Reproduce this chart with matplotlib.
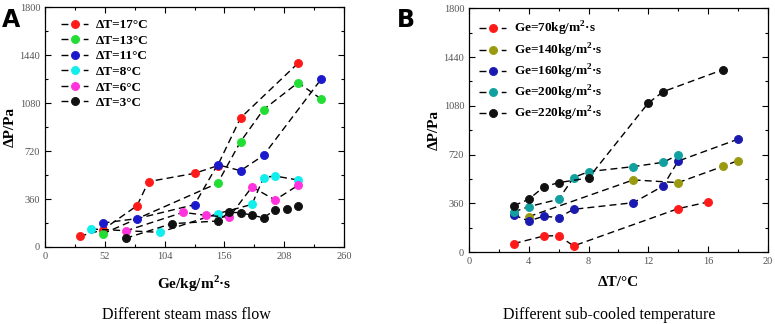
import matplotlib.pyplot as plt
from matplotlib.ticker import MultipleLocator

# Panel A: pressure drop vs steam mass flow, one series per sub-cooling
ge_17 = [30, 50, 80, 90, 130, 150, 170, 220]
dp_17 = [80, 128, 310, 491, 553, 610, 969, 1380]
ge_13 = [50, 150, 170, 190, 220, 240]
dp_13 = [98, 478, 791, 1032, 1234, 1112]
ge_11 = [50, 80, 130, 150, 170, 190, 240]
dp_11 = [180, 213, 318, 618, 573, 688, 1259]
ge_8 = [40, 100, 150, 180, 190, 200, 220]
dp_8 = [135, 110, 250, 320, 521, 533, 503]
ge_6 = [70, 120, 140, 160, 180, 200, 220]
dp_6 = [120, 260, 238, 223, 451, 353, 463]
ge_3 = [70, 110, 150, 160, 170, 180, 190, 200, 210, 220]
dp_3 = [65, 175, 195, 260, 258, 238, 220, 278, 285, 310]
labels_a = ['ΔT=17°C', 'ΔT=13°C', 'ΔT=11°C', 'ΔT=8°C', 'ΔT=6°C', 'ΔT=3°C']

# Panel B: pressure drop vs sub-cooling, one series per mass flow
dt_70 = [3, 5, 6, 7, 14, 16]
dp_70 = [64, 120, 123, 47, 322, 371]
dt_140 = [4, 11, 14, 17, 18]
dp_140 = [263, 534, 514, 634, 676]
dt_160 = [3, 4, 5, 6, 7, 11, 13, 14, 18]
dp_160 = [275, 231, 266, 256, 317, 366, 489, 673, 834]
dt_200 = [3, 4, 6, 7, 8, 11, 13, 14]
dp_200 = [298, 337, 391, 551, 595, 632, 664, 718]
dt_220 = [3, 4, 5, 6, 8, 12, 13, 17]
dp_220 = [344, 391, 482, 514, 548, 1101, 1185, 1347]
labels_b = [r'Ge=70kg/m$^\mathbf{2}$·s', r'Ge=140kg/m$^\mathbf{2}$·s',
            r'Ge=160kg/m$^\mathbf{2}$·s', r'Ge=200kg/m$^\mathbf{2}$·s',
            r'Ge=220kg/m$^\mathbf{2}$·s']

colors_a = ['#ff1a1a', '#22dd33', '#1a1acc', '#11eeee', '#ff33dd', '#111111']
colors_b = ['#ff1a1a', '#9a9a10', '#1a1ab0', '#10a0a0', '#111111']

plt.rcParams['font.family'] = ['Liberation Serif', 'DejaVu Serif']
plt.rcParams['mathtext.fontset'] = 'custom'
plt.rcParams['mathtext.rm'] = 'Liberation Serif'
plt.rcParams['mathtext.bf'] = 'Liberation Serif:bold'


def draw_panel(ax, series, colors, labels, spacing, fsize, anchor):
    for (x, y), c, lab in zip(series, colors, labels):
        ax.plot(x, y, ls=(0, (5, 3)), color='k', lw=1.0, marker='o', ms=5.8,
                mfc=c, mec=c, mew=0.6, label=lab)
    ax.set_ylim(0, 1800)
    ax.yaxis.set_major_locator(MultipleLocator(360))
    ax.yaxis.set_minor_locator(MultipleLocator(180))
    ax.tick_params(which='both', direction='in', top=True, right=True,
                   labelsize=7.5, labelcolor='#555555', width=0.8)
    ax.tick_params(which='major', length=4)
    ax.tick_params(which='minor', length=2.5)
    for s in ax.spines.values():
        s.set_linewidth(0.9)
    ax.set_ylabel('ΔP/Pa', fontsize=11, fontweight='bold', labelpad=2)
    ax.legend(loc='upper left', frameon=False, handlelength=2.0,
              handletextpad=0.6, labelspacing=spacing, borderaxespad=0.5,
              bbox_to_anchor=(anchor, 1.0),
              prop={'weight': 'bold', 'size': fsize})


fig = plt.figure(figsize=(7.75, 3.24), dpi=100)
ax_a = fig.add_axes([0.0581, 0.2377, 0.3858, 0.7398])
ax_b = fig.add_axes([0.6052, 0.2213, 0.3854, 0.7531])

series_a = [(ge_17, dp_17), (ge_13, dp_13), (ge_11, dp_11),
            (ge_8, dp_8), (ge_6, dp_6), (ge_3, dp_3)]
draw_panel(ax_a, series_a, colors_a, labels_a, 0.25, 9.5, 0.015)
ax_a.set_xlim(0, 260)
ax_a.xaxis.set_major_locator(MultipleLocator(52))
ax_a.xaxis.set_minor_locator(MultipleLocator(26))
ax_a.set_xlabel(r'Ge/kg/m$^\mathbf{2}$·s', fontsize=11, fontweight='bold',
                labelpad=9)

series_b = [(dt_70, dp_70), (dt_140, dp_140), (dt_160, dp_160),
            (dt_200, dp_200), (dt_220, dp_220)]
draw_panel(ax_b, series_b, colors_b, labels_b, 0.22, 9.5, -0.005)
ax_b.set_xlim(0, 20)
ax_b.xaxis.set_major_locator(MultipleLocator(4))
ax_b.xaxis.set_minor_locator(MultipleLocator(2))
ax_b.set_xlabel('ΔT/°C', fontsize=11, fontweight='bold', labelpad=7)

fig.text(0.003, 0.975, 'A', fontsize=17, fontweight='bold',
         family='DejaVu Sans', va='top')
fig.text(0.512, 0.975, 'B', fontsize=17, fontweight='bold',
         family='DejaVu Sans', va='top')
fig.text(0.24, 0.015, 'Different steam mass flow', fontsize=11.5, ha='center')
fig.text(0.786, 0.015, 'Different sub-cooled temperature', fontsize=11.5,
         ha='center')

fig.savefig('out.png', dpi=100)
